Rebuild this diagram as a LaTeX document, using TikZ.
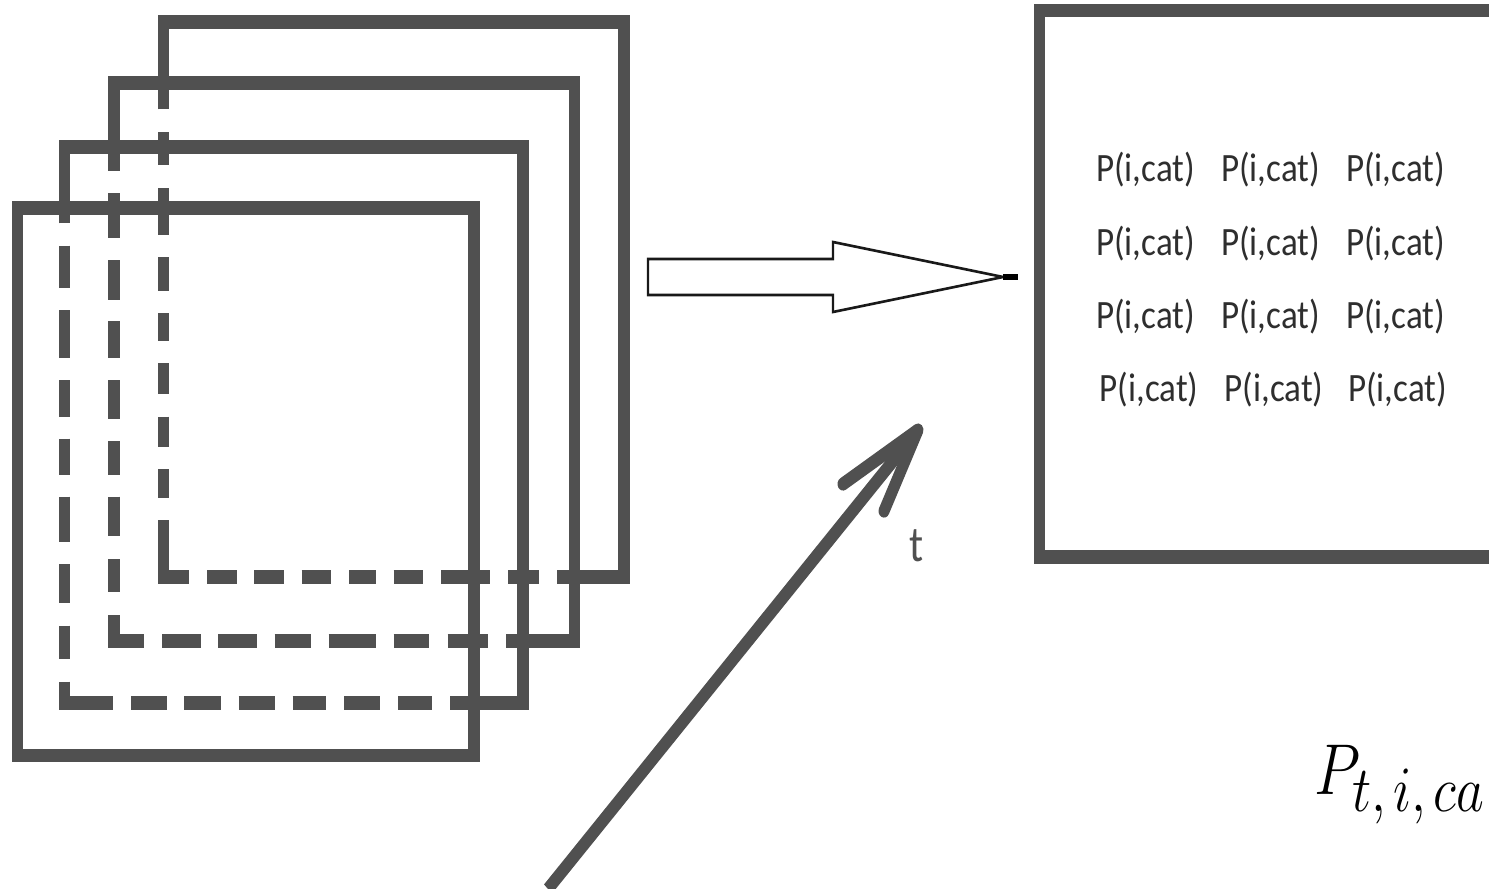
\RequirePackage{fix-cm}
\documentclass[tikz,border=0pt]{standalone}
\usepackage{fontspec}
\newfontfamily\labelfont{Carlito}
\usetikzlibrary{arrows.meta}
\DeclareMathSizes{60}{60}{54}{44}
\definecolor{frame}{HTML}{505050}
\definecolor{ink}{HTML}{2E2E2E}
\newcommand\cellentry{\scalebox{1.045}[1]{P(i,cat)}}
\tikzset{
  frameline/.style={draw=frame, line width=11.5pt},
  outline/.style={draw=black!90, line width=2.2pt, line join=miter},
  cell/.style={anchor=base west, inner sep=0pt, text=ink,
    font=\labelfont\fontsize{33.5}{40}\selectfont},
  timearrow/.style={draw=frame, line width=11pt},
}
\begin{document}
\begin{tikzpicture}
\useasboundingbox[fill=white] (0,0) rectangle (1489pt,-889pt);
% the whole drawing is stretched vertically by 1.2
\begin{scope}[x=1pt, y=-0.8333333pt, transform canvas={yscale=1.2}]

  % ---- back frame (4) ----
  \draw[frameline] (163.5,109.3) -- (163.5,21.7) -- (624.2,21.7) -- (624.2,576.7) -- (557.3,576.7);
  \draw[frameline] (163.5,520) -- (163.5,576.7) -- (189.3,576.7);
  \foreach \a/\b in {132.3/165,188.3/235,257.3/291,313.3/341,363.3/394.3,416.7/447.3,469.3/497.7}
    \draw[frameline] (163.5,\a) -- (163.5,\b);
  \foreach \a/\b in {207.3/236.7,254.3/283.7,301.7/331,349/376,393.7/422.7,441/490,508.3/539.3}
    \draw[frameline] (\a,576.7) -- (\b,576.7);

  % ---- frame 3 ----
  \draw[frameline] (114.2,170.7) -- (114.2,82.7) -- (574.7,82.7) -- (574.7,641.3) -- (506,641.3);
  \draw[frameline] (114.2,615) -- (114.2,641.3) -- (144.3,641.3);
  \foreach \a/\b in {193.3/238.3,260/300,321/358,380/419.3,441/475.3,496.7/536,559/592.3}
    \draw[frameline] (114.2,\a) -- (114.2,\b);
  \foreach \a/\b in {162.3/200.7,218.3/256.7,274.7/310.7,328.7/376,393.7/429.3,447.7/488.3}
    \draw[frameline] (\a,641.3) -- (\b,641.3);

  % ---- frame 2 ----
  \draw[frameline] (64.7,223.3) -- (64.7,146.7) -- (522.8,146.7) -- (522.8,702.8) -- (450,702.8);
  \draw[frameline] (64.7,681.7) -- (64.7,702.8) -- (112.7,702.8);
  \foreach \a/\b in {245.7/288.3,310/358,380/416.7,438.7/475.3,496.7/541.7,564.3/603.3,625.7/659.3}
    \draw[frameline] (64.7,\a) -- (64.7,\b);
  \foreach \a/\b in {131/166.7,184.3/221,238.7/274.7,292.7/326.3,344.3/380.3,398.3/431.7}
    \draw[frameline] (\a,702.8) -- (\b,702.8);

  % ---- front frame (1) ----
  \draw[frameline] (17.5,208.3) rectangle (473.8,755.5);

  % ---- block arrow towards the result box ----
  \draw[outline, fill=white] (648,259) -- (833,259) -- (833,242) -- (1003,277)
    -- (833,312) -- (833,295) -- (648,295) -- cycle;
  \draw[black, line width=4.5pt] (1003,277) -- (1018,277);

  % ---- result box (open towards the right border) ----
  \draw[frameline] (1489,10.5) -- (1039.5,10.5) -- (1039.5,557.3) -- (1489,557.3);

  \foreach \r/\y in {1/181.7,2/255,3/328.3} {
    \node[cell] (p\r a) at (1096,\y) {\cellentry};
    \node[cell] (p\r b) at (1221,\y) {\cellentry};
    \node[cell] (p\r c) at (1346,\y) {\cellentry};
  }
  \node[cell] (p4a) at (1099.5,401.7) {\cellentry};
  \node[cell] (p4b) at (1224.5,401.7) {\cellentry};
  \node[cell] (p4c) at (1348,401.7) {\cellentry};

  % ---- time axis ----
  \coordinate (tstart) at (548,889);
  \coordinate (ttip) at (918,430);
  \coordinate (tbarbl) at (843,484);
  \coordinate (tbarbr) at (884,511);
  \draw[timearrow] (tstart) -- (ttip);
  \draw[timearrow, line cap=round, line join=round] (tbarbl) -- (ttip) -- (tbarbr);
  \node[anchor=base, inner sep=0pt, text=frame,
        font=\labelfont\fontsize{42}{50}\selectfont] (tlabel) at (916.7,561.7) {t};

  % ---- formula ----
  \node[anchor=base west, inner sep=0pt, font=\fontsize{60}{72}\selectfont]
    (formula) at (1314,794)
    {$P_{\lower4pt\hbox{$\scriptstyle t,\mkern2.5mu i,\mkern2.5mu ca$}}$};
\end{scope}
\end{tikzpicture}
\end{document}
